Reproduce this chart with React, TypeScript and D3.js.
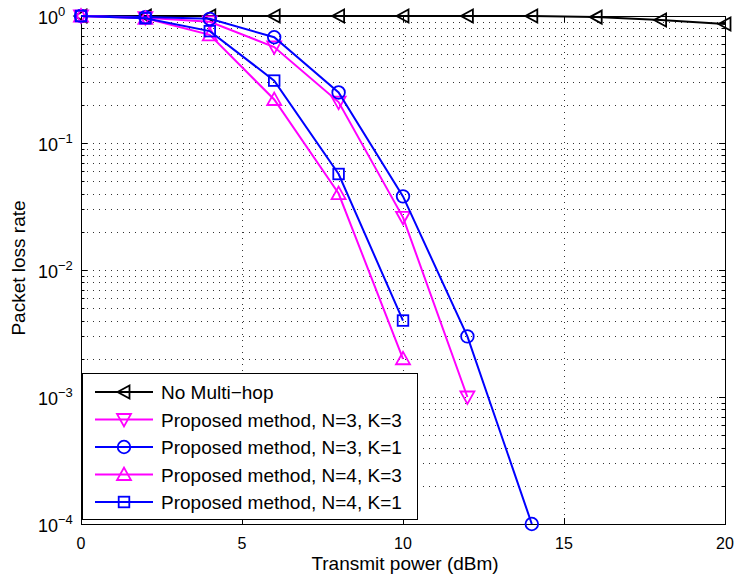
import React from "react";
import * as d3 from "d3";

const xTicks = [0, 5, 10, 15, 20];
const yDecades = [0, -1, -2, -3, -4];

const xNoMulti = [0, 2, 4, 6, 8, 10, 12, 14, 16, 18, 20];
const yNoMulti = [1, 1, 1, 1, 1, 1, 1, 1, 0.98, 0.93, 0.865];

const xN3K3 = [0, 2, 4, 6, 8, 10, 12];
const yN3K3 = [1, 0.97, 0.9, 0.57, 0.21, 0.026, 0.001];

const xN3K1 = [0, 2, 4, 6, 8, 10, 12, 14];
const yN3K1 = [1, 0.98, 0.95, 0.68, 0.25, 0.038, 0.003, 0.0001];

const xN4K3 = [0, 2, 4, 6, 8, 10];
const yN4K3 = [1, 0.96, 0.71, 0.22, 0.04, 0.002];

const xN4K1 = [0, 2, 4, 6, 8, 10];
const yN4K1 = [1, 0.96, 0.76, 0.31, 0.057, 0.004];

const seriesNames = [
  "No Multi\u2212hop",
  "Proposed method, N=3, K=3",
  "Proposed method, N=3, K=1",
  "Proposed method, N=4, K=3",
  "Proposed method, N=4, K=1",
];

type Marker = "left" | "down" | "circle" | "up" | "square";

const series: { name: string; xs: number[]; ys: number[]; color: string; marker: Marker }[] = [
  { name: seriesNames[0], xs: xNoMulti, ys: yNoMulti, color: "#000000", marker: "left" },
  { name: seriesNames[1], xs: xN3K3, ys: yN3K3, color: "#ff00ff", marker: "down" },
  { name: seriesNames[2], xs: xN3K1, ys: yN3K1, color: "#0000ff", marker: "circle" },
  { name: seriesNames[3], xs: xN4K3, ys: yN4K3, color: "#ff00ff", marker: "up" },
  { name: seriesNames[4], xs: xN4K1, ys: yN4K1, color: "#0000ff", marker: "square" },
];

const L = 81, R = 725, T = 16, B = 524;
const FONT = "'Liberation Sans', Arial, Helvetica, sans-serif";

function MarkerShape({ type, x, y, color }: { type: Marker; x: number; y: number; color: string }) {
  const common = { fill: "none", stroke: color, strokeWidth: 1.8 };
  switch (type) {
    case "circle":
      return <circle cx={x} cy={y} r={6.3} {...common} />;
    case "square":
      return <rect x={x - 5.3} y={y - 5.3} width={10.6} height={10.6} {...common} />;
    case "up":
      return <path d={`M${x - 7},${y + 5.5} L${x + 7},${y + 5.5} L${x},${y - 7} Z`} {...common} />;
    case "down":
      return <path d={`M${x - 7},${y - 5.5} L${x + 7},${y - 5.5} L${x},${y + 7} Z`} {...common} />;
    case "left":
      return <path d={`M${x - 6.5},${y} L${x + 5.5},${y - 6.5} L${x + 5.5},${y + 6.5} Z`} {...common} />;
  }
}

export default function App() {
  const x = d3.scaleLinear().domain([0, 20]).range([L, R]);
  const y = d3.scaleLog().domain([1e-4, 1]).range([B, T]);

  const minorVals: number[] = [];
  for (let d = -4; d < 0; d++) {
    for (let m = 2; m <= 9; m++) minorVals.push(m * Math.pow(10, d));
  }
  const majorVals = yDecades.map((e) => Math.pow(10, e));

  const line = d3
    .line<[number, number]>()
    .x((d) => x(d[0]))
    .y((d) => y(d[1]));

  const legX = 82, legY = 373, legW = 335, legH = 146;
  const rowY0 = 392, rowStep = 27.5;

  return (
    <svg width={737} height={580} style={{ position: "absolute", left: 0, top: 0, background: "#fff" }} fontFamily={FONT}>
      <rect x={0} y={0} width={737} height={580} fill="#fff" />
      {/* grid */}
      <g stroke="#333" strokeWidth={1} strokeDasharray="1 5" fill="none">
        {[...minorVals, ...majorVals].map((v, i) => (
          <line key={"h" + i} x1={L} x2={R} y1={Math.round(y(v)) + 0.5} y2={Math.round(y(v)) + 0.5} />
        ))}
        {xTicks.slice(1, -1).map((v) => (
          <line key={"v" + v} x1={Math.round(x(v)) + 0.5} x2={Math.round(x(v)) + 0.5} y1={T} y2={B} />
        ))}
      </g>
      {/* ticks */}
      <g stroke="#000" strokeWidth={1}>
        {majorVals.map((v, i) => (
          <g key={"ym" + i}>
            <line x1={L} x2={L + 6} y1={Math.round(y(v)) + 0.5} y2={Math.round(y(v)) + 0.5} />
            <line x1={R - 6} x2={R} y1={Math.round(y(v)) + 0.5} y2={Math.round(y(v)) + 0.5} />
          </g>
        ))}
        {minorVals.map((v, i) => (
          <g key={"yn" + i}>
            <line x1={L} x2={L + 3.5} y1={Math.round(y(v)) + 0.5} y2={Math.round(y(v)) + 0.5} />
            <line x1={R - 3.5} x2={R} y1={Math.round(y(v)) + 0.5} y2={Math.round(y(v)) + 0.5} />
          </g>
        ))}
        {xTicks.map((v) => (
          <g key={"xt" + v}>
            <line x1={Math.round(x(v)) + 0.5} x2={Math.round(x(v)) + 0.5} y1={B} y2={B - 6} />
            <line x1={Math.round(x(v)) + 0.5} x2={Math.round(x(v)) + 0.5} y1={T} y2={T + 6} />
          </g>
        ))}
      </g>
      {/* axes box */}
      <rect x={L + 0.5} y={T + 0.5} width={R - L} height={B - T} fill="none" stroke="#000" strokeWidth={1} />
      {/* tick labels */}
      {xTicks.map((v) => (
        <text key={"xl" + v} x={x(v)} y={549} textAnchor="middle" fontSize={16} fill="#000">
          {v}
        </text>
      ))}
      {yDecades.map((e) => (
        <text key={"yl" + e} x={38} y={y(Math.pow(10, e)) + 8} fontSize={18} fill="#000">
          <tspan>10</tspan>
          <tspan dy={-8} fontSize={13}>
            {e === 0 ? "0" : "\u2212" + Math.abs(e)}
          </tspan>
        </text>
      ))}
      {/* axis labels */}
      <text x={405} y={570} textAnchor="middle" fontSize={19} fill="#000">
        Transmit power (dBm)
      </text>
      <text transform="translate(25,268) rotate(-90)" textAnchor="middle" fontSize={19} fill="#000">
        Packet loss rate
      </text>
      {/* series */}
      {series.map((s, si) => {
        const pts = s.xs.map((xv, i) => [xv, s.ys[i]] as [number, number]);
        return (
          <g key={"s" + si}>
            <path d={line(pts) || ""} fill="none" stroke={s.color} strokeWidth={2} />
            {pts.map((p, i) => (
              <MarkerShape key={i} type={s.marker} x={x(p[0])} y={y(p[1])} color={s.color} />
            ))}
          </g>
        );
      })}
      {/* legend */}
      <rect x={legX + 0.5} y={legY + 0.5} width={legW} height={legH} fill="#fff" stroke="#000" strokeWidth={1} />
      {series.map((s, i) => {
        const ry = rowY0 + i * rowStep;
        return (
          <g key={"lg" + i}>
            <line x1={95} x2={153} y1={ry} y2={ry} stroke={s.color} strokeWidth={2} />
            <MarkerShape type={s.marker} x={124} y={ry} color={s.color} />
            <text x={161} y={ry + 7} fontSize={19} fill="#000">
              {s.name}
            </text>
          </g>
        );
      })}
    </svg>
  );
}
